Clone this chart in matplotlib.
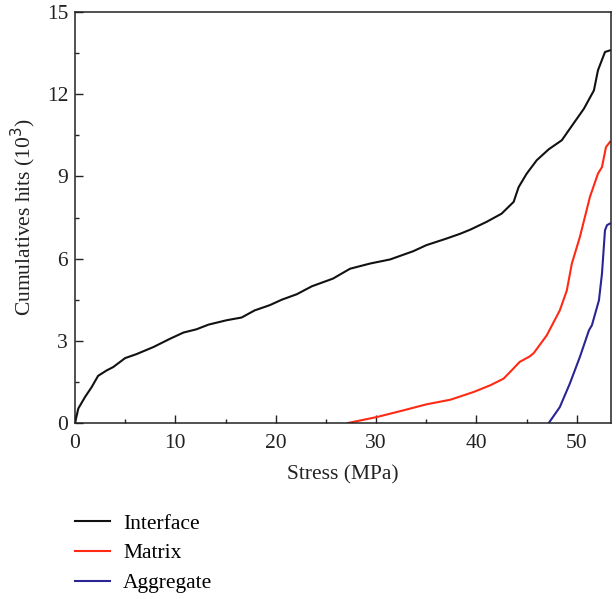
import matplotlib
matplotlib.use("Agg")
import matplotlib.pyplot as plt
from matplotlib.ticker import MultipleLocator

plt.rcParams['font.family'] = ['Liberation Serif', 'DejaVu Serif']

interface_x = [0, 0.33, 1.0, 1.66, 2.3, 3.16, 3.8, 5.0, 6.1, 7.8, 9.5, 10.8, 12.1, 13.3,
               15.1, 16.6, 17.9, 19.4, 20.6, 22.1, 23.6, 25.7, 27.4, 29.4, 31.4, 33.7,
               35.0, 37.0, 38.4, 39.4, 41.0, 42.5, 43.7, 44.2, 45.0, 46.0, 47.2, 48.5,
               49.3, 50.7, 51.7, 52.1, 52.8, 53.3]
interface_y = [0, 0.53, 0.95, 1.31, 1.72, 1.92, 2.04, 2.37, 2.51, 2.77, 3.08, 3.30, 3.42, 3.59,
               3.75, 3.85, 4.11, 4.30, 4.50, 4.70, 4.99, 5.27, 5.63, 5.82, 5.97, 6.27,
               6.49, 6.73, 6.91, 7.06, 7.34, 7.64, 8.07, 8.61, 9.10, 9.59, 9.99, 10.32,
               10.74, 11.47, 12.14, 12.87, 13.54, 13.6]

matrix_x = [27.2, 30.1, 32.7, 35.0, 37.4, 39.7, 41.4, 42.7, 43.5, 44.3, 45.3, 45.7, 47.0,
            48.3, 49.0, 49.5, 50.3, 51.3, 52.1, 52.5, 52.9, 53.3]
matrix_y = [0, 0.22, 0.46, 0.68, 0.85, 1.13, 1.38, 1.62, 1.92, 2.23, 2.43, 2.55, 3.2,
            4.11, 4.84, 5.82, 6.79, 8.25, 9.10, 9.34, 10.07, 10.26]

aggregate_x = [47.2, 48.3, 49.3, 50.3, 51.2, 51.5, 52.2, 52.5, 52.8, 53.0, 53.3]
aggregate_y = [0, 0.58, 1.44, 2.41, 3.38, 3.57, 4.48, 5.45, 7.03, 7.22, 7.28]

fig = plt.figure(figsize=(6.16, 5.99), dpi=100)
ax = fig.add_axes([75/616, 176/599, (611-75)/616, (423-12)/599])

l1, = ax.plot(interface_x, interface_y, color='#111111', lw=1.5, label='Interface')
l2, = ax.plot(matrix_x, matrix_y, color='#ff2a14', lw=1.5, label='Matrix')
l3, = ax.plot(aggregate_x, aggregate_y, color='#2a2494', lw=1.5, label='Aggregate')

ax.set_xlim(0, 53.4)
ax.set_ylim(0, 15)
ax.xaxis.set_major_locator(MultipleLocator(10))
ax.xaxis.set_minor_locator(MultipleLocator(5))
ax.yaxis.set_major_locator(MultipleLocator(3))
ax.yaxis.set_minor_locator(MultipleLocator(1.5))
ax.tick_params(which='both', direction='in', labelsize=15.5, colors='#222222', pad=5)
ax.tick_params(axis='x', which='both', pad=8)
ax.tick_params(which='major', length=5.5, width=1)
ax.tick_params(which='minor', length=3, width=1)
for s in ax.spines.values():
    s.set_linewidth(1.1)
    s.set_color('#222222')

ax.set_xlabel('Stress (MPa)', fontsize=15.5, color='#222222', labelpad=9)
ax.set_ylabel('Cumulatives hits (10$^3$)', fontsize=15.5, color='#222222', labelpad=6)

fig.legend(handles=[l1, l2, l3], loc='upper left', bbox_to_anchor=(66/616, 1 - 505/599),
           frameon=False, fontsize=15.5, handlelength=1.65, handletextpad=0.6,
           labelspacing=0.45, borderaxespad=0)

fig.savefig('out.png', dpi=100)
